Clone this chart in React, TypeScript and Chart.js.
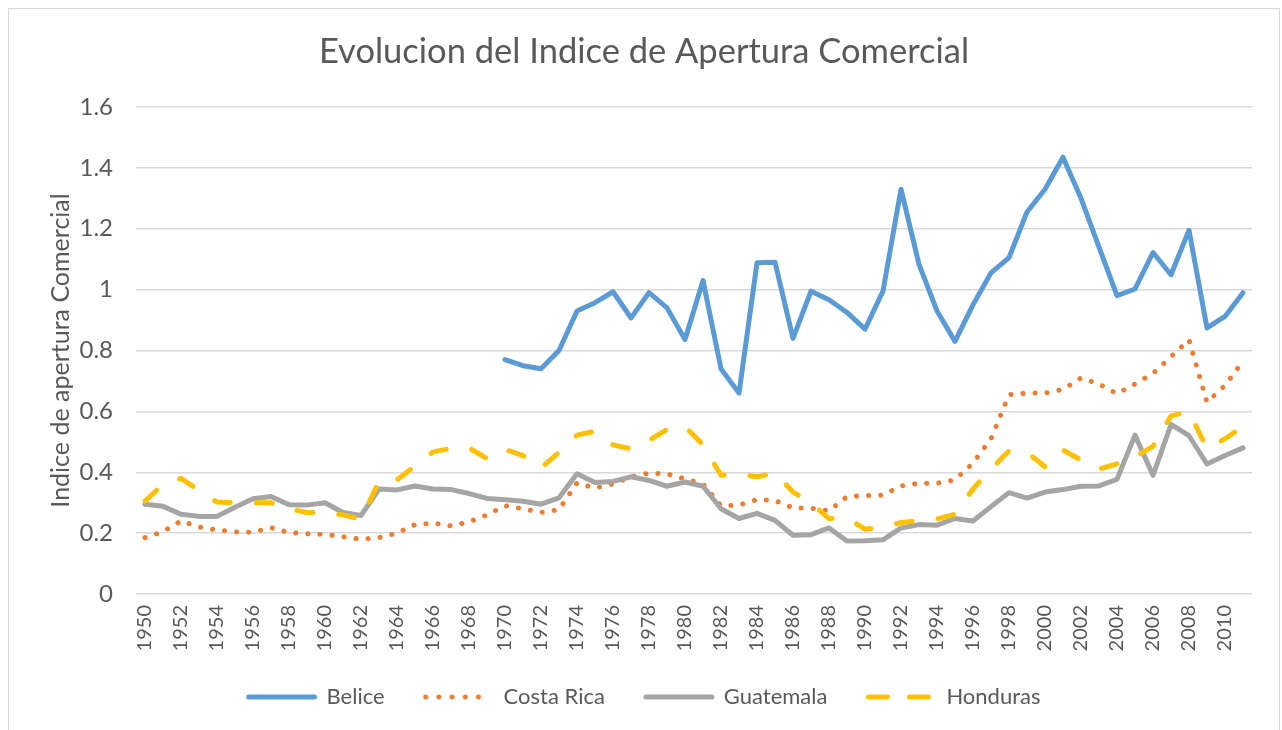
import React, { useEffect, useRef } from "react";
import { Chart, registerables } from "chart.js";

Chart.register(...registerables);

const years: string[] = [
  "1950", "1951", "1952", "1953", "1954", "1955", "1956", "1957", "1958", "1959",
  "1960", "1961", "1962", "1963", "1964", "1965", "1966", "1967", "1968", "1969",
  "1970", "1971", "1972", "1973", "1974", "1975", "1976", "1977", "1978", "1979",
  "1980", "1981", "1982", "1983", "1984", "1985", "1986", "1987", "1988", "1989",
  "1990", "1991", "1992", "1993", "1994", "1995", "1996", "1997", "1998", "1999",
  "2000", "2001", "2002", "2003", "2004", "2005", "2006", "2007", "2008", "2009",
  "2010", "2011",
];

const belice: (number | null)[] = [
  null, null, null, null, null, null, null, null, null, null,
  null, null, null, null, null, null, null, null, null, null,
  0.77, 0.75, 0.74, 0.80, 0.93, 0.957, 0.993, 0.907, 0.99, 0.94,
  0.836, 1.03, 0.74, 0.66, 1.088, 1.09, 0.84, 0.995, 0.967, 0.925,
  0.87, 0.995, 1.33, 1.083, 0.93, 0.83, 0.95, 1.055, 1.105, 1.255,
  1.33, 1.435, 1.3, 1.14, 0.98, 1.002, 1.122, 1.049, 1.195, 0.874,
  0.912, 0.99,
];

const costaRica: number[] = [
  0.185, 0.205, 0.24, 0.22, 0.21, 0.204, 0.203, 0.218, 0.202, 0.198,
  0.196, 0.188, 0.18, 0.185, 0.2, 0.228, 0.233, 0.224, 0.237, 0.26,
  0.29, 0.28, 0.268, 0.277, 0.365, 0.348, 0.362, 0.385, 0.397, 0.395,
  0.378, 0.362, 0.29, 0.292, 0.31, 0.307, 0.283, 0.282, 0.273, 0.32,
  0.323, 0.325, 0.355, 0.364, 0.364, 0.375, 0.43, 0.51, 0.655, 0.66,
  0.66, 0.672, 0.71, 0.69, 0.658, 0.69, 0.725, 0.78, 0.835, 0.63,
  0.685, 0.765,
];

const guatemala: number[] = [
  0.295, 0.288, 0.262, 0.255, 0.255, 0.285, 0.313, 0.32, 0.293, 0.292,
  0.3, 0.268, 0.258, 0.345, 0.342, 0.355, 0.345, 0.343, 0.33, 0.314,
  0.31, 0.305, 0.295, 0.316, 0.395, 0.366, 0.37, 0.385, 0.373, 0.354,
  0.368, 0.354, 0.28, 0.248, 0.265, 0.242, 0.193, 0.195, 0.217, 0.174,
  0.175, 0.178, 0.217, 0.228, 0.226, 0.248, 0.24, 0.287, 0.333, 0.315,
  0.335, 0.343, 0.354, 0.355, 0.377, 0.522, 0.39, 0.557, 0.52, 0.427,
  0.455, 0.48,
];

const honduras: number[] = [
  0.305, 0.36, 0.38, 0.34, 0.302, 0.3, 0.3, 0.3, 0.28, 0.268,
  0.268, 0.26, 0.245, 0.37, 0.375, 0.42, 0.467, 0.478, 0.48, 0.445,
  0.475, 0.455, 0.415, 0.465, 0.522, 0.535, 0.49, 0.477, 0.505, 0.54,
  0.55, 0.49, 0.39, 0.395, 0.385, 0.398, 0.335, 0.3, 0.248, 0.25,
  0.213, 0.22, 0.235, 0.24, 0.247, 0.262, 0.345, 0.41, 0.47, 0.465,
  0.418, 0.473, 0.44, 0.41, 0.428, 0.45, 0.485, 0.585, 0.6, 0.477,
  0.51, 0.55,
];

const TEXT = "#595959";
const FONT = "Lato";
const RIGHT_PAD = 27;
const LW = 5;

const boxShift = {
  id: "boxShift",
  afterLayout(chart: any) {
    const l = chart.legend;
    if (l) {
      l.top -= 12;
      l.bottom -= 12;
      l.right += RIGHT_PAD;
    }
    const t = chart.titleBlock;
    if (t) {
      t.right += RIGHT_PAD;
    }
  },
};

function makeMarker(color: string, dash: number[]): HTMLCanvasElement {
  const c = document.createElement("canvas");
  c.width = 72;
  c.height = 10;
  const g = c.getContext("2d");
  if (g) {
    g.strokeStyle = color;
    g.lineWidth = LW;
    g.lineCap = "round";
    g.setLineDash(dash);
    g.beginPath();
    g.moveTo(3, 5);
    g.lineTo(69, 5);
    g.stroke();
  }
  return c;
}

export default function App() {
  const ref = useRef<HTMLCanvasElement>(null);

  useEffect(() => {
    const canvas = ref.current;
    if (!canvas) return;
    const markers = [
      makeMarker("#5B9BD5", []),
      makeMarker("#ED7D31", [0.1, 13.1]),
      makeMarker("#A5A5A5", []),
      makeMarker("#FFC000", [19, 22]),
    ];
    const chart = new Chart(canvas, {
      type: "line",
      data: {
        labels: years,
        datasets: [
          {
            label: "Belice",
            data: belice,
            borderColor: "#5B9BD5",
            backgroundColor: "#5B9BD5",
            borderWidth: LW,
            pointRadius: 0,
            borderCapStyle: "round",
            borderJoinStyle: "round",
            order: 3,
          },
          {
            label: "Costa Rica",
            data: costaRica,
            borderColor: "#ED7D31",
            backgroundColor: "#ED7D31",
            borderWidth: LW,
            borderDash: [0.1, 12],
            pointRadius: 0,
            borderCapStyle: "round",
            borderJoinStyle: "round",
            order: 2,
          },
          {
            label: "Guatemala",
            data: guatemala,
            borderColor: "#A5A5A5",
            backgroundColor: "#A5A5A5",
            borderWidth: LW,
            pointRadius: 0,
            borderCapStyle: "round",
            borderJoinStyle: "round",
            order: 1,
          },
          {
            label: "Honduras",
            data: honduras,
            borderColor: "#FFC000",
            backgroundColor: "#FFC000",
            borderWidth: LW,
            borderDash: [16, 26],
            pointRadius: 0,
            borderCapStyle: "round",
            borderJoinStyle: "round",
            order: 0,
          },
        ],
      },
      plugins: [boxShift],
      options: {
        responsive: false,
        animation: false,
        spanGaps: false,
        layout: { padding: { left: 0, right: RIGHT_PAD, top: 0, bottom: 0 } },
        plugins: {
          title: {
            display: true,
            text: "Evolucion del Indice de Apertura Comercial",
            color: TEXT,
            font: { family: FONT, size: 34.5, weight: "normal" },
            padding: { top: 22.3, bottom: 34.3 },
          },
          legend: {
            display: true,
            position: "bottom",
            labels: {
              usePointStyle: true,
              pointStyleWidth: 68,
              color: TEXT,
              font: { family: FONT, size: 22 },
              padding: 40,
              generateLabels: (ch: any) =>
                (Chart.defaults as any).plugins.legend.labels
                  .generateLabels(ch)
                  .map((it: any) => ({ ...it, pointStyle: markers[it.datasetIndex] })),
              sort: (a: any, b: any) => a.datasetIndex - b.datasetIndex,
            },
          },
          tooltip: { enabled: false },
        },
        scales: {
          x: {
            offset: true,
            grid: { display: false, drawTicks: false },
            border: { display: false },
            ticks: {
              autoSkip: false,
              maxRotation: 90,
              minRotation: 90,
              padding: 11,
              color: TEXT,
              font: { family: FONT, size: 20 },
              callback: (_v: any, i: number) => (i % 2 === 0 ? years[i] : ""),
            },
            afterFit: (s: any) => {
              s.height = 64;
            },
          },
          y: {
            min: 0,
            max: 1.6,
            ticks: {
              stepSize: 0.2,
              padding: 23,
              color: TEXT,
              font: { family: FONT, size: 24 },
              callback: (v: any) => String(Number(Number(v).toFixed(1))),
            },
            grid: { color: "#d9d9d9", lineWidth: 1.5, drawTicks: false },
            border: { display: false },
            title: {
              display: true,
              text: "Indice de apertura Comercial",
              color: TEXT,
              font: { family: FONT, size: 25 },
              padding: { top: 37, bottom: 0 },
            },
            afterFit: (s: any) => {
              s.width = 127;
            },
          },
        },
      },
    } as any);
    return () => chart.destroy();
  }, []);

  return (
    <div
      style={{
        position: "fixed",
        left: 8,
        top: 8,
        width: 1272,
        height: 722,
        boxSizing: "border-box",
        borderTop: "1px solid #d9d9d9",
        borderLeft: "1px solid #d9d9d9",
        borderRight: "1px solid #d9d9d9",
        background: "#fff",
      }}
    >
      <canvas
        ref={ref}
        width={1270}
        height={721}
        style={{ display: "block", width: 1270, height: 721 }}
      />
    </div>
  );
}
